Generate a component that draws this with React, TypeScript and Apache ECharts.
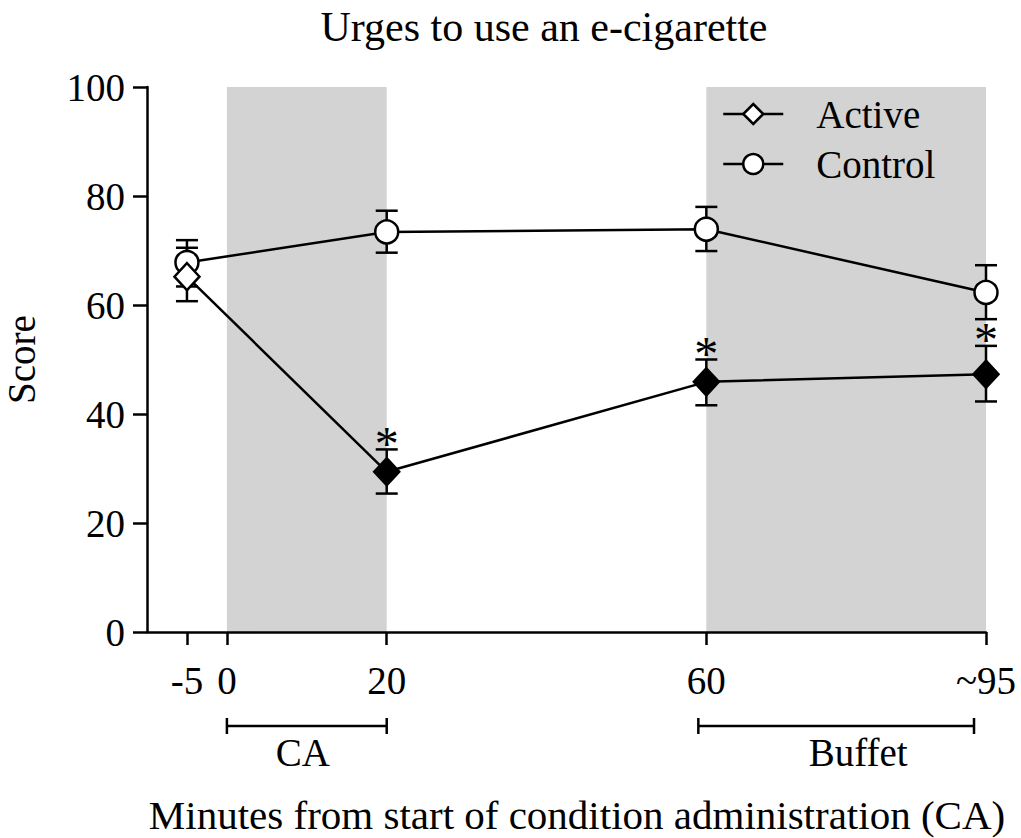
import React, { useEffect, useRef } from "react";
import * as echarts from "echarts";

const FONT = "'Liberation Serif', 'Times New Roman', serif";

const xTicks = [-5, 0, 20, 60, 95];
const xTickLabels = ["-5", "0", "20", "60", "~95"];
const times = [-5, 20, 60, 95];

const activeMean = [65.2, 29.4, 45.9, 47.3];
const activeLow = [60.7, 25.4, 41.6, 42.3];
const activeHigh = [70.5, 33.5, 50.0, 52.5];
const activeSig = [0, 1, 1, 1];
const activeFilled = [0, 1, 1, 1];

const controlMean = [67.8, 73.4, 73.9, 62.3];
const controlLow = [63.4, 69.6, 69.9, 57.4];
const controlHigh = [71.9, 77.3, 78.0, 67.3];
const controlSig = [0, 0, 0, 0];

const shadedSpans = [
  [0, 20],
  [60, 95],
];
const phaseNames = ["CA", "Buffet"];
const phaseSpans = [
  [0, 20],
  [59, 93.5],
];
const phaseLabelX = [9.5, 79];

const titleText = "Urges to use an e-cigarette";
const xTitle = "Minutes from start of condition administration (CA)";
const yTitle = "Score";

function errRender(params: any, api: any) {
  const x = api.value(0);
  const lo = api.value(1);
  const hi = api.value(2);
  const star = api.value(3);
  const p = api.coord([x, hi]);
  const q = api.coord([x, lo]);
  const w = 11;
  const ls = { stroke: "#000", lineWidth: 2.5 };
  const children: any[] = [
    { type: "line", shape: { x1: p[0], y1: p[1], x2: q[0], y2: q[1] }, style: ls },
    { type: "line", shape: { x1: p[0] - w, y1: p[1], x2: p[0] + w, y2: p[1] }, style: ls },
    { type: "line", shape: { x1: q[0] - w, y1: q[1], x2: q[0] + w, y2: q[1] }, style: ls },
  ];
  if (star) {
    children.push({
      type: "text",
      x: p[0],
      y: p[1] - 6,
      style: {
        text: "*",
        fontSize: 48,
        fontFamily: FONT,
        align: "center",
        verticalAlign: "middle",
        fill: "#000",
      },
    });
  }
  return { type: "group", children };
}

export default function App() {
  const ref = useRef<HTMLDivElement>(null);
  useEffect(() => {
    document.body.style.margin = "0";
    const chart = echarts.init(ref.current!, null, { renderer: "svg" });
    const textStyle = { fontFamily: FONT, color: "#000", fontSize: 39 };

    const activeData = times.map((t, i) => ({
      value: [t, activeMean[i]],
      itemStyle: { color: activeFilled[i] ? "#000" : "#fff" },
    }));
    const controlData = times.map((t, i) => [t, controlMean[i]]);

    chart.setOption({
      animation: false,
      grid: { left: 147, right: 35, top: 87, bottom: 206, outerBoundsMode: "none", containLabel: false },
      xAxis: {
        type: "value",
        min: -10,
        max: 95,
        axisLine: { onZero: false, lineStyle: { color: "#000", width: 2.5 } },
        axisTick: { customValues: xTicks, length: 13, lineStyle: { color: "#000", width: 2.5 } },
        axisLabel: {
          customValues: xTicks,
          formatter: (v: number) => {
            const i = xTicks.indexOf(v);
            return i >= 0 ? xTickLabels[i] : "";
          },
          ...textStyle,
          margin: 29,
        },
        splitLine: { show: false },
      },
      yAxis: {
        type: "value",
        min: 0,
        max: 100,
        interval: 20,
        axisLine: { show: true, onZero: false, lineStyle: { color: "#000", width: 2.5 } },
        axisTick: { show: true, length: 14, lineStyle: { color: "#000", width: 2.5 } },
        axisLabel: { ...textStyle, margin: 22 },
        splitLine: { show: false },
        name: yTitle,
        nameLocation: "middle",
        nameGap: 106,
        nameTextStyle: { ...textStyle },
      },
      legend: {
        data: ["Active", "Control"],
        orient: "vertical",
        left: 717,
        top: 89,
        itemWidth: 60,
        itemHeight: 25,
        itemGap: 10,
        lineStyle: { width: 2.5, color: "#000" },
        itemStyle: { borderWidth: 2.5, borderColor: "#000" },
        textStyle: { ...textStyle, lineHeight: 40, padding: [0, 0, 0, 28] },
      },
      graphic: [
        {
          type: "text",
          x: 544,
          y: 27,
          style: { text: titleText, fontSize: 42, fontFamily: FONT, fill: "#000", align: "center", verticalAlign: "middle" },
        },
        {
          type: "text",
          x: 577,
          y: 815,
          style: { text: xTitle, fontSize: 41, fontFamily: FONT, fill: "#000", align: "center", verticalAlign: "middle" },
        },
      ],
      series: [
        {
          type: "custom",
          name: "shade",
          z: 0,
          silent: true,
          data: shadedSpans,
          renderItem: (params: any, api: any) => {
            const a = api.coord([api.value(0), 100]);
            const b = api.coord([api.value(1), 0]);
            return {
              type: "rect",
              shape: { x: a[0], y: a[1], width: b[0] - a[0], height: b[1] - a[1] },
              style: { fill: "#d3d3d3" },
            };
          },
        },
        {
          type: "custom",
          name: "phases",
          clip: false,
          silent: true,
          data: phaseSpans.map((s, i) => [s[0], s[1], phaseLabelX[i]]),
          renderItem: (params: any, api: any) => {
            const a = api.coord([api.value(0), 0]);
            const b = api.coord([api.value(1), 0]);
            const c = api.coord([api.value(2), 0]);
            const y = a[1] + 94;
            const ls = { stroke: "#000", lineWidth: 2.5 };
            return {
              type: "group",
              children: [
                { type: "line", shape: { x1: a[0], y1: y, x2: b[0], y2: y }, style: ls },
                { type: "line", shape: { x1: a[0], y1: y - 8, x2: a[0], y2: y + 8 }, style: ls },
                { type: "line", shape: { x1: b[0], y1: y - 8, x2: b[0], y2: y + 8 }, style: ls },
                {
                  type: "text",
                  x: c[0],
                  y: y + 26,
                  style: {
                    text: phaseNames[params.dataIndex],
                    fontSize: 39,
                    fontFamily: FONT,
                    fill: "#000",
                    align: "center",
                    verticalAlign: "middle",
                  },
                },
              ],
            };
          },
        },
        {
          type: "custom",
          name: "controlErr",
          z: 2,
          silent: true,
          data: times.map((t, i) => [t, controlLow[i], controlHigh[i], controlSig[i]]),
          renderItem: errRender,
        },
        {
          type: "custom",
          name: "activeErr",
          z: 2,
          silent: true,
          data: times.map((t, i) => [t, activeLow[i], activeHigh[i], activeSig[i]]),
          renderItem: errRender,
        },
        {
          type: "line",
          name: "Control",
          z: 3,
          data: controlData,
          symbol: "circle",
          symbolSize: 23,
          lineStyle: { color: "#000", width: 2.5 },
          itemStyle: { color: "#fff", borderColor: "#000", borderWidth: 2.5 },
        },
        {
          type: "line",
          name: "Active",
          z: 4,
          data: activeData,
          symbol: "diamond",
          symbolSize: [25, 27],
          lineStyle: { color: "#000", width: 2.5 },
          itemStyle: { color: "#fff", borderColor: "#000", borderWidth: 2.5 },
        },
      ],
    });
    return () => chart.dispose();
  }, []);
  return <div ref={ref} style={{ width: 1021, height: 838 }} />;
}
